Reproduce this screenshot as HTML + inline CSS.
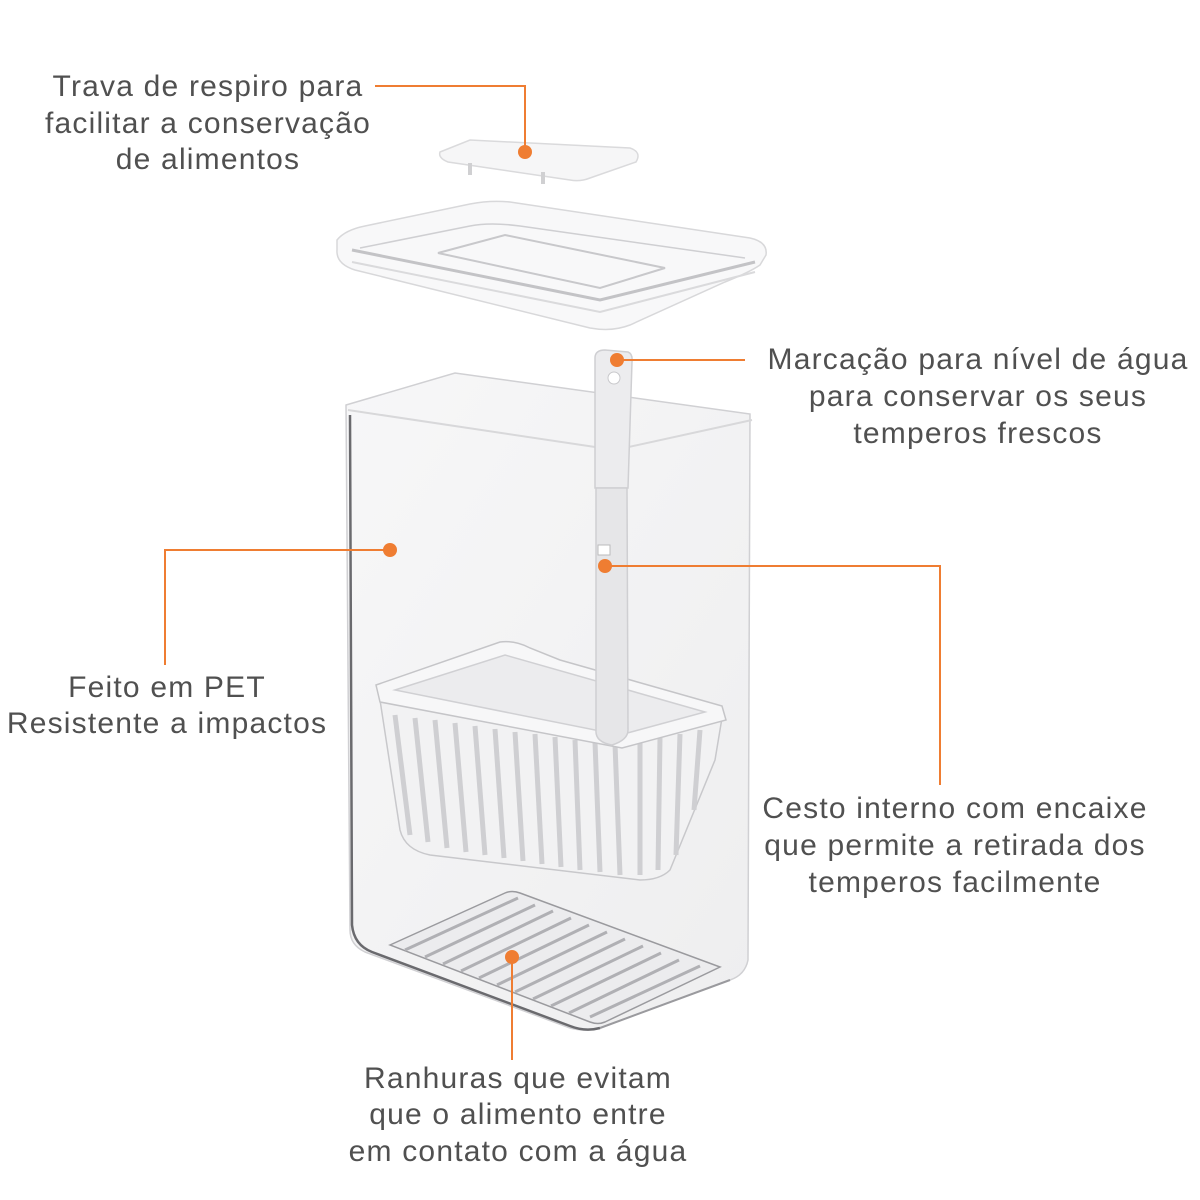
<!DOCTYPE html>
<html><head><meta charset="utf-8"><style>
html,body{margin:0;padding:0;background:#fff;}
svg{display:block;}
text{font-family:"Liberation Sans",sans-serif;font-size:30px;fill:#505050;text-anchor:middle;letter-spacing:1.2px;}
</style></head><body>
<svg width="1200" height="1200" viewBox="0 0 1200 1200" xmlns="http://www.w3.org/2000/svg">
<defs>
<linearGradient id="cg" x1="0" y1="0" x2="1" y2="1">
<stop offset="0" stop-color="#f7f7f8"/><stop offset="1" stop-color="#eeeeef"/></linearGradient>
</defs>
<!-- vent piece -->
<path d="M440,152 L470,140 L630,148 Q642,152 636,162 L590,178 Q580,182 570,180 L448,162 Q438,158 440,152 Z" fill="#f6f6f7" stroke="#dadadc" stroke-width="1.5"/>
<path d="M470,163 L470,175 M543,172 L543,184" stroke="#d0d0d2" stroke-width="4"/>
<!-- lid -->
<path d="M337,240 Q345,230 365,226 L470,204 Q490,200 510,202 L750,238 Q768,242 766,255 L760,265 Q750,272 725,282 L630,325 Q612,332 590,328 L355,270 Q336,264 337,250 Z" fill="#f8f8f9" stroke="#d8d8da" stroke-width="1.5"/>
<path d="M352,250 L600,300 L755,262" fill="none" stroke="#c3c3c6" stroke-width="3"/>
<path d="M352,262 L600,312 L755,272" fill="none" stroke="#dadadc" stroke-width="2"/>
<path d="M360,248 L470,226 Q490,222 520,226 L745,258" fill="none" stroke="#cfcfd2" stroke-width="1.5"/>
<path d="M438,253 L505,235 L665,268 L600,288 Z" fill="none" stroke="#c8c8cb" stroke-width="2"/>
<!-- container -->
<path d="M346,405 L455,373 L750,414 L748,960 Q745,975 730,980 L600,1028 Q585,1032 570,1028 L365,952 Q350,945 350,930 Z" fill="url(#cg)" stroke="#d0d0d3" stroke-width="1.5"/>
<path d="M348,410 L615,450 L752,420" fill="none" stroke="#d8d8da" stroke-width="2"/>
<path d="M350,415 L352,925 Q354,945 372,952 L570,1026 Q585,1032 600,1028" fill="none" stroke="#6a6a6e" stroke-width="2.5"/>
<path d="M600,1028 L730,980" fill="none" stroke="#9a9a9e" stroke-width="2"/>
<!-- tray -->
<path d="M390,945 L505,893 Q512,890 520,893 L720,967 L605,1022 Q598,1025 590,1022 Z" fill="#ececee" stroke="#9a9a9e" stroke-width="1.5"/>
<g stroke="#b0b0b4" stroke-width="3">
<line x1="405" y1="950" x2="518" y2="898"/><line x1="425" y1="957" x2="535" y2="905"/><line x1="443" y1="964" x2="553" y2="911"/><line x1="461" y1="971" x2="571" y2="918"/><line x1="479" y1="978" x2="589" y2="925"/><line x1="497" y1="985" x2="607" y2="932"/><line x1="515" y1="992" x2="625" y2="939"/><line x1="533" y1="999" x2="643" y2="946"/><line x1="551" y1="1006" x2="661" y2="953"/><line x1="569" y1="1013" x2="679" y2="960"/><line x1="590" y1="1017" x2="700" y2="966"/>
</g>
<!-- basket -->
<path d="M380,700 L400,830 Q405,850 430,855 L640,880 Q660,880 670,870 L715,760 L722,718 Z" fill="#f2f2f3" stroke="#c8c8cb" stroke-width="1.5"/>
<g stroke="#cfcfd2" stroke-width="5">
<line x1="395" y1="715" x2="410" y2="835"/><line x1="415" y1="718" x2="428" y2="842"/><line x1="435" y1="720" x2="447" y2="848"/><line x1="455" y1="723" x2="466" y2="852"/><line x1="475" y1="726" x2="485" y2="855"/><line x1="495" y1="729" x2="504" y2="858"/><line x1="515" y1="732" x2="523" y2="861"/><line x1="535" y1="734" x2="542" y2="864"/><line x1="555" y1="737" x2="561" y2="867"/><line x1="575" y1="740" x2="580" y2="870"/><line x1="595" y1="742" x2="600" y2="872"/><line x1="615" y1="744" x2="620" y2="875"/><line x1="640" y1="742" x2="640" y2="875"/><line x1="660" y1="738" x2="658" y2="870"/><line x1="680" y1="734" x2="676" y2="855"/><line x1="700" y1="730" x2="694" y2="810"/>
</g>
<path d="M376,685 L500,642 Q515,640 530,648 L560,660 L722,706 L726,720 L622,748 L380,702 Z" fill="#f7f7f8" stroke="#c5c5c8" stroke-width="1.5"/>
<path d="M395,690 L505,655 L705,712 L620,735 Z" fill="#ececee" stroke="#d0d0d3" stroke-width="1.5"/>
<!-- stick -->
<path d="M595,358 Q595,350 605,350 L628,352 Q633,354 632,362 L628,488 L595,488 Z" fill="#ececee" stroke="#cfcfd2" stroke-width="1.5"/>
<circle cx="614" cy="378" r="6" fill="#fff" stroke="#c8c8cb"/>
<path d="M596,488 L627,488 L628,730 Q628,740 612,745 Q595,742 596,730 Z" fill="#e6e6e8" stroke="#cfcfd2" stroke-width="1.5"/>
<rect x="598" y="545" width="12" height="10" fill="#fff" stroke="#bbb"/>
<!-- callouts -->
<g stroke="#ef7d32" stroke-width="2" fill="none">
<polyline points="375,86 525,86 525,152"/>
<polyline points="617,360 745,360"/>
<polyline points="390,550 165,550 165,665"/>
<polyline points="605,566 940,566 940,785"/>
<polyline points="512,957 512,1060"/>
</g>
<g fill="#ef7d32">
<circle cx="525" cy="152" r="7"/><circle cx="617" cy="360" r="7"/><circle cx="390" cy="550" r="7"/><circle cx="605" cy="566" r="7"/><circle cx="512" cy="957" r="7"/>
</g>
<text x="208" y="96">Trava de respiro para</text>
<text x="208" y="133">facilitar a conservação</text>
<text x="208" y="169">de alimentos</text>
<text x="978" y="369">Marcação para nível de água</text>
<text x="978" y="406">para conservar os seus</text>
<text x="978" y="443">temperos frescos</text>
<text x="167" y="697">Feito em PET</text>
<text x="167" y="733">Resistente a impactos</text>
<text x="955" y="818">Cesto interno com encaixe</text>
<text x="955" y="855">que permite a retirada dos</text>
<text x="955" y="892">temperos facilmente</text>
<text x="518" y="1088">Ranhuras que evitam</text>
<text x="518" y="1124">que o alimento entre</text>
<text x="518" y="1161">em contato com a água</text>
</svg>
</body></html>
